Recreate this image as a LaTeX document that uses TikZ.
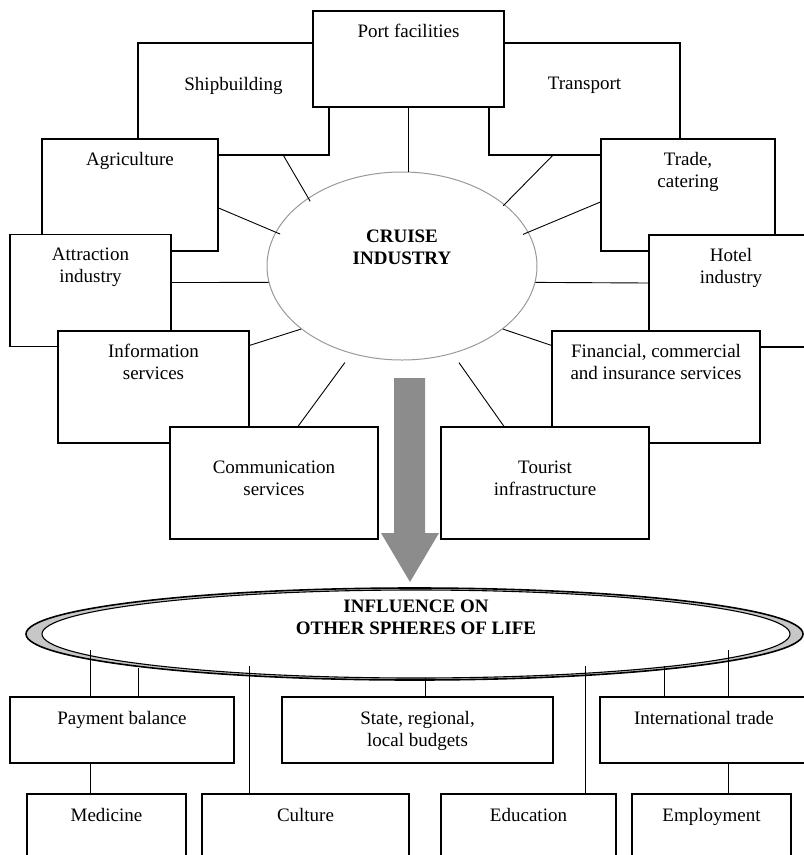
\documentclass[tikz,border=0pt]{standalone}
\usepackage{fontspec}
\setmainfont{Liberation Serif}
\usetikzlibrary{shapes.geometric}

\begin{document}
\begin{tikzpicture}[x=1pt, y=-1pt,
    box/.style={draw, fill=white, line width=1.2pt, minimum height=112pt},
    lbl/.style={anchor=north, inner sep=0pt, align=center, yshift=-13.5pt,
        font=\fontsize{19}{22}\selectfont},
    low/.style={yshift=-21pt},
    head/.style={inner sep=0pt, align=center,
        font=\fontsize{19}{22}\selectfont\bfseries},
    spoke/.style={line width=0.9pt},
    link/.style={line width=1pt}]

    \useasboundingbox (0,0) rectangle (804,855);
    \clip (0,0) rectangle (804,855);

    % ── Cruise industry ───────────────────────────────────────────────────────
    \node[ellipse, draw=black!40, line width=1pt, inner sep=0pt,
          minimum width=270pt, minimum height=188pt,
          label={[head, yshift=19pt]center:{CRUISE\\INDUSTRY}}]
        (cruise) at (402,266) {};

    % ── Branch boxes (back to front) ──────────────────────────────────────────
    \node[box, minimum width=191pt, label={[lbl, low]north:Shipbuilding}]
        (ship) at (233.5,99) {};
    \node[box, minimum width=191pt, label={[lbl, low]north:Transport}]
        (trans) at (584.5,99) {};
    \node[box, minimum width=191pt, minimum height=96pt,
          label={[lbl]north:Port facilities}] (port) at (408.5,59) {};
    \node[box, minimum width=176pt, label={[lbl]north:Agriculture}]
        (agri) at (130,195) {};
    \node[box, minimum width=174pt, label={[lbl]north:{Trade,\\catering}}]
        (trade) at (688,195) {};
    \node[box, minimum width=161pt, label={[lbl]north:{Attraction\\industry}}]
        (attr) at (90.5,290.5) {};
    \node[box, minimum width=164pt, label={[lbl]north:{Hotel\\industry}}]
        (hotel) at (731,291) {};
    \node[box, minimum width=191pt, label={[lbl]north:{Information\\services}}]
        (info) at (153.5,387) {};
    \node[box, minimum width=208pt,
          label={[lbl]north:{Financial, commercial\\and insurance services}}]
        (fin) at (656,387) {};
    \node[box, minimum width=208pt, label={[lbl, low]north:{Communication\\services}}]
        (comm) at (274,483) {};
    \node[box, minimum width=208pt, label={[lbl, low]north:{Tourist\\infrastructure}}]
        (tour) at (545,483) {};

    % ── Spokes ────────────────────────────────────────────────────────────────
    \draw[spoke] (port.south) -- (port.south |- cruise.north);
    \draw[spoke, shorten >=-4pt] ([xshift=50pt]ship.south) -- (cruise.144);
    \draw[spoke, shorten >=-5pt] ([yshift=-13pt]agri.east) -- (cruise.165);
    \draw[spoke] ([yshift=8pt]attr.east) -- (cruise.187);
    \draw[spoke] ([yshift=-15pt]info.north east) -- (cruise.212);
    \draw[spoke, shorten >=11pt] ([xshift=24pt]comm.north) -- (cruise.240);
    \draw[spoke, shorten >=-2pt] ([xshift=-32pt]trans.south) -- (cruise.31);
    \draw[spoke, shorten >=-6pt] ([yshift=-7pt]trade.west) -- (cruise.15);
    \draw[spoke] ([yshift=8pt]hotel.west) -- (cruise.-7);
    \draw[spoke] ([yshift=-15pt]fin.north west) -- (cruise.-32);
    \draw[spoke, shorten >=11pt] ([xshift=-41pt]tour.north) -- (cruise.-60);

    % ── Big arrow down ────────────────────────────────────────────────────────
    \fill[black!45] (394,378) -- (425,378) -- (425,533) -- (439,533)
        -- (410,582) -- (381,533) -- (394,533) -- cycle;

    % ── Influence ellipse (double rim) ────────────────────────────────────────
    \node[ellipse, draw, line width=1.6pt, fill=black!22,
          minimum width=777pt, minimum height=92pt] (infl) at (414.5,634) {};
    \node[ellipse, draw, line width=1.1pt, fill=white,
          minimum width=748pt, minimum height=88pt,
          label={[head, yshift=17pt]center:{INFLUENCE ON\\OTHER SPHERES OF LIFE}}]
        (inner) at (416,634) {};

    % free ends inside the ellipse
    \coordinate (e1) at (90,650);
    \coordinate (e2) at (138,668);
    \coordinate (e3) at (249,666);
    \coordinate (e4) at (425,678);
    \coordinate (e5) at (585,666);
    \coordinate (e6) at (664,666);
    \coordinate (e7) at (728,650);

    % ── Spheres ───────────────────────────────────────────────────────────────
    \node[box, minimum width=224pt, minimum height=66pt,
          label={[lbl, yshift=-1pt]north:Payment balance}] (pay) at (122,730) {};
    \node[box, minimum width=271pt, minimum height=66pt,
          label={[lbl, yshift=-1pt]north:{State, regional,\\local budgets}}]
        (state) at (417.5,730) {};
    \node[box, minimum width=208pt, minimum height=66pt,
          label={[lbl, yshift=-1pt]north:International trade}] (intl) at (704,730) {};
    \node[box, minimum width=159pt, minimum height=86pt,
          label={[lbl, yshift=-1pt]north:Medicine}] (med) at (106.5,837) {};
    \node[box, minimum width=207pt, minimum height=86pt,
          label={[lbl, yshift=-1pt]north:Culture}] (cult) at (305.5,837) {};
    \node[box, minimum width=175pt, minimum height=86pt,
          label={[lbl, yshift=-1pt]north:Education}] (edu) at (528.5,837) {};
    \node[box, minimum width=159pt, minimum height=86pt,
          label={[lbl, yshift=-1pt]north:Employment}] (empl) at (711.5,837) {};

    % ── Links ─────────────────────────────────────────────────────────────────
    \draw[link] (e1) -- (e1 |- pay.north);
    \draw[link] (e2) -- (e2 |- pay.north);
    \draw[link] (e3) -- (e3 |- cult.north);
    \draw[link] (e4) -- (e4 |- state.north);
    \draw[link] (e5) -- (e5 |- edu.north);
    \draw[link] (e6) -- (e6 |- intl.north);
    \draw[link] (e7) -- (e7 |- intl.north);
    \draw[link] (e1 |- pay.south) -- (e1 |- med.north);
    \draw[link] (e7 |- intl.south) -- (e7 |- empl.north);

\end{tikzpicture}
\end{document}
